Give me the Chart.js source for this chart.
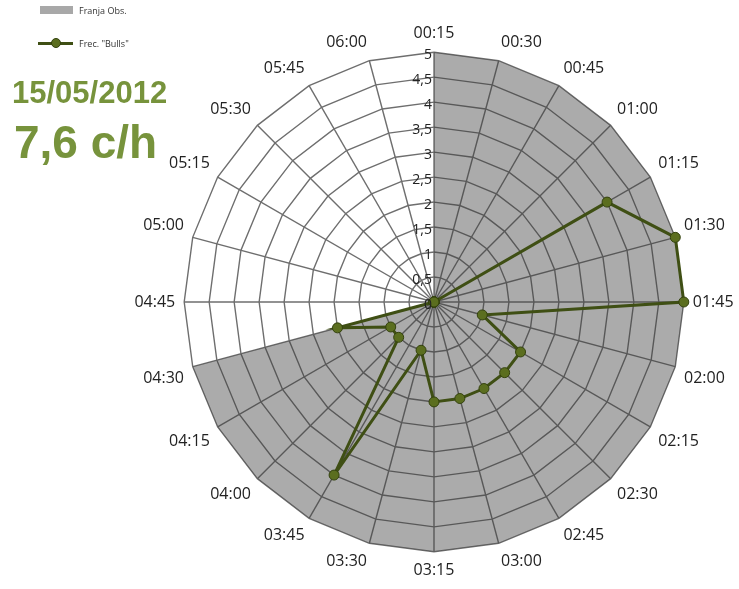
<!DOCTYPE html>
<html lang="es">
<head>
<meta charset="UTF-8">
<title>Frec. Bulls 15/05/2012</title>
<script src="https://cdn.jsdelivr.net/npm/chart.js@4"></script>
<style>
    body { margin: 0; background: #fff; }
    #wrap { position: relative; width: 739px; height: 589px; }
    canvas { position: absolute; left: 0; top: 0; }
    .legend { position: absolute; left: 38px; font: 9px 'Open Sans', sans-serif; color: #333; }
    .legend .box { position: absolute; left: 2px; top: 1px; width: 33px; height: 8px; background: #a8a8a8; }
    .legend .ln { position: absolute; left: 0; top: 4px; width: 35px; height: 3px; background: #3f4f14; }
    .legend .dot { position: absolute; left: 13px; top: 0px; width: 8px; height: 8px; border-radius: 50%; background: #5b6e1f; border: 1px solid #33410e; }
    .legend span.t { position: absolute; left: 41px; top: -1px; white-space: nowrap; }
    .title { position: absolute; font-family: 'Liberation Sans', Arial, sans-serif; font-weight: bold; color: #77933c; white-space: nowrap; }
</style>
</head>
<body>
<div id="wrap">
    <canvas id="chart" width="739" height="589"></canvas>
    <div class="legend" style="top:5px"><div class="box"></div><span class="t">Franja Obs.</span></div>
    <div class="legend" style="top:38px"><div class="ln"></div><div class="dot"></div><span class="t">Frec. "Bulls"</span></div>
    <div class="title" style="left:12px; top:75px; font-size:31px;">15/05/2012</div>
    <div class="title" style="left:14px; top:115px; font-size:46px;">7,6 c/h</div>
</div>
<script>
// Categories: 15-minute slots
const labels = ['00:15', '00:30', '00:45', '01:00', '01:15', '01:30', '01:45', '02:00',
    '02:15', '02:30', '02:45', '03:00', '03:15', '03:30', '03:45', '04:00',
    '04:15', '04:30', '04:45', '05:00', '05:15', '05:30', '05:45', '06:00'];

// Observation window (gray band)
const franjaObs = [5, 5, 5, 5, 5, 5, 5, 5, 5, 5, 5, 5, 5, 5, 5, 5, 5, 5, 0, 0, 0, 0, 0, 0];

// Bulls frequency
const frecBulls = [0, 0, 0, 0, 4, 5, 5, 1, 2, 2, 2, 2, 2, 1, 4, 1, 1, 2, 0, 0, 0, 0, 0, 0];

// Radial tick labels
const tickValues = [0, 0.5, 1, 1.5, 2, 2.5, 3, 3.5, 4, 4.5, 5];
const tickLabels = ['0', '0,5', '1', '1,5', '2', '2,5', '3', '3,5', '4', '4,5', '5'];

// Tick labels drawn left of the vertical spoke, like the original
const tickPlugin = {
    id: 'tickPlugin',
    afterDraw(chart) {
        const r = chart.scales.r;
        const ctx = chart.ctx;
        ctx.save();
        ctx.font = '14px "Open Sans", sans-serif';
        ctx.fillStyle = '#222';
        ctx.textAlign = 'right';
        ctx.textBaseline = 'middle';
        tickValues.forEach((v, i) => {
            const y = r.yCenter - r.getDistanceFromCenterForValue(v);
            ctx.fillText(tickLabels[i], r.xCenter - 2, y + 3);
        });
        ctx.restore();
    }
};

new Chart(document.getElementById('chart'), {
    type: 'radar',
    data: {
        labels: labels,
        datasets: [{
            label: 'Franja Obs.',
            data: franjaObs,
            backgroundColor: 'rgba(60, 60, 60, 0.43)',
            borderWidth: 0,
            fill: true,
            pointRadius: 0,
            order: 2
        }, {
            label: 'Frec. "Bulls"',
            data: frecBulls,
            borderColor: '#3f4f14',
            borderWidth: 3,
            fill: false,
            pointRadius: 5,
            pointBackgroundColor: '#5b6e1f',
            pointBorderColor: '#33410e',
            pointBorderWidth: 1,
            order: 1
        }]
    },
    plugins: [tickPlugin],
    options: {
        responsive: false,
        animation: false,
        layout: { padding: { left: 129, right: 0, top: 24, bottom: 8 } },
        elements: { line: { tension: 0 } },
        plugins: {
            legend: { display: false },
            tooltip: { enabled: false }
        },
        scales: {
            r: {
                min: 0,
                max: 5,
                startAngle: 0,
                ticks: { stepSize: 0.5, display: false },
                grid: { color: '#6e6e6e', lineWidth: 1.4 },
                angleLines: { color: '#6e6e6e', lineWidth: 1.4 },
                pointLabels: {
                    color: '#222',
                    padding: 9,
                    font: { family: '"Open Sans", sans-serif', size: 16 }
                }
            }
        }
    }
});
</script>
</body>
</html>
